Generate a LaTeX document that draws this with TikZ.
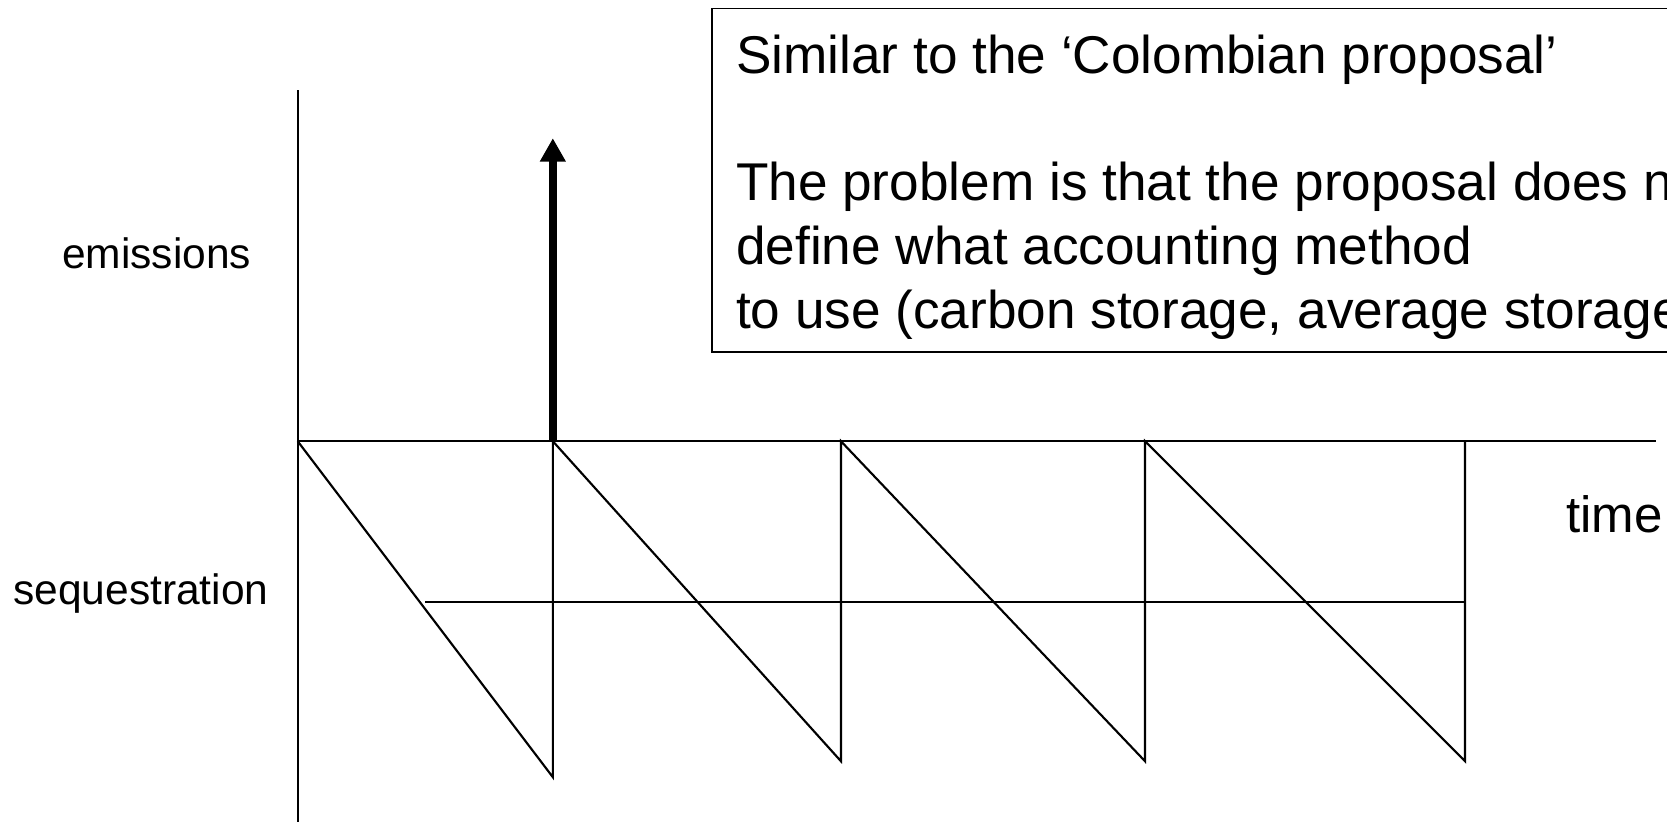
\documentclass[tikz,border=0pt]{standalone}
\usepackage{fontspec}
\setmainfont{Liberation Sans}
\usetikzlibrary{arrows.meta}
\begin{document}
\begin{tikzpicture}[x={(0.5pt,0)}, y={(0,-0.5pt)},
  axisline/.style={line width=1pt, black},
  sawline/.style={line width=1pt, black, line join=miter},
  boxline/.style={line width=0.9pt, black},
  boxtext/.style={anchor=base west, inner sep=0pt, font=\fontsize{25pt}{30pt}\selectfont},
  lbl/.style={anchor=base west, inner sep=0pt, font=\fontsize{20pt}{24pt}\selectfont},
  timelbl/.style={anchor=base west, inner sep=0pt, font=\fontsize{24pt}{28pt}\selectfont},
  bigarrow/.style={line width=3.6pt, -{Triangle[width=11.5pt,length=11pt]}},
]
\useasboundingbox (0,0) rectangle (1568,773);
\clip (0,0) rectangle (1568,773);

% axes
\coordinate (ytop) at (280,85);
\coordinate (ybot) at (280,773);
\coordinate (O) at (280,415);
\coordinate (xend) at (1558,415);
\draw[axisline] (ytop) -- (ybot);
\draw[axisline] (O) -- (xend);

% sawtooth
\coordinate (t1) at (520,415);
\coordinate (b1) at (520,731);
\coordinate (t2) at (791,415);
\coordinate (b2) at (791,716);
\coordinate (t3) at (1077,415);
\coordinate (b3) at (1077,716);
\coordinate (t4) at (1378,415);
\coordinate (b4) at (1378,716);
\draw[sawline] (O) -- (b1) -- (t1) -- (b2) -- (t2) -- (b3) -- (t3) -- (b4) -- (t4);

% average line
\coordinate (avgL) at (400,566);
\coordinate (avgR) at (1378,566);
\draw[sawline] (avgL) -- (avgR);

% emission arrow
\coordinate (arrtip) at (520,130);
\draw[bigarrow] (t1) -- (arrtip);

% labels
\node[lbl] (emis) at (58,253) {emissions};
\node[lbl] (seq) at (12,569) {sequestration};
\node[timelbl] (time) at (1473,501) {time};

% text box
\coordinate (boxNW) at (670,8);
\coordinate (boxSE) at (1640,331);
\draw[boxline] (boxNW) rectangle (boxSE);
\node[boxtext] (l1) at (692,69) {Similar to the ‘Colombian proposal’};
\node[boxtext] (l2) at (692,189) {The problem is that the proposal does not};
\node[boxtext] (l3) at (692,249) {define what accounting method};
\node[boxtext] (l4) at (692,309) {to use (carbon storage, average storage};
\end{tikzpicture}
\end{document}
